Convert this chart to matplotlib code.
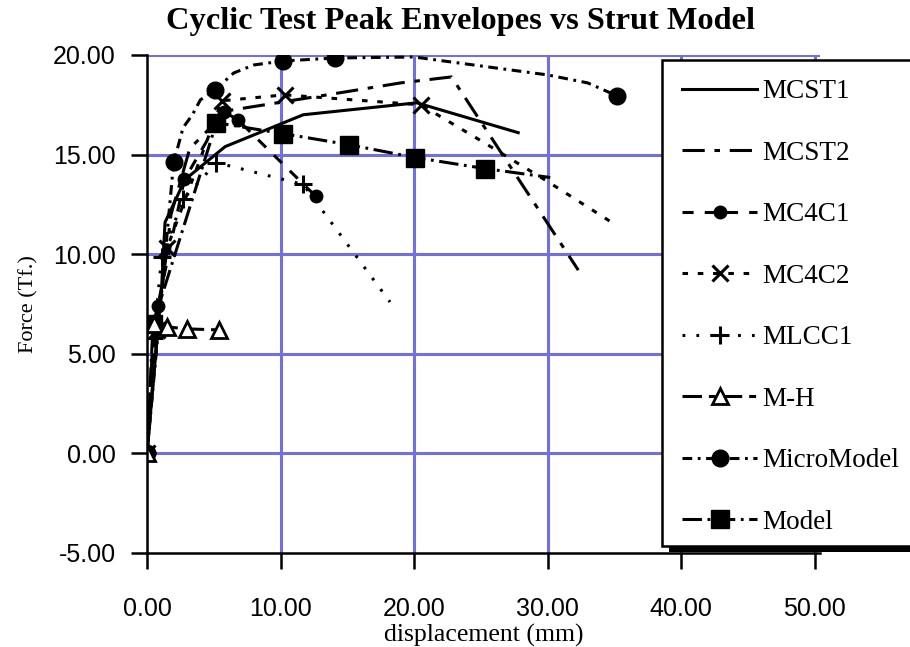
import matplotlib
matplotlib.use("Agg")
import matplotlib.pyplot as plt
from matplotlib.patches import Rectangle
from matplotlib.ticker import FormatStrFormatter

# data (displacement mm, force Tf)
mcst1_x = [0, 1.1, 1.35, 2.85, 5.85, 11.7, 20.2, 27.8]
mcst1_y = [0, 8.4, 11.6, 13.75, 15.4, 17.0, 17.6, 16.1]

mcst2_x = [0, 0.9, 1.8, 3.2, 6.0, 13.5, 19.0, 22.8, 32.3]
mcst2_y = [0, 7.0, 12.0, 15.3, 17.2, 18.0, 18.6, 18.9, 9.2]

mc4c1_x = [0, 0.8, 2.8, 5.75, 6.8, 12.65]
mc4c1_y = [0, 7.4, 13.75, 17.15, 16.75, 12.9]

mc4c2_x = [0, 0.75, 1.5, 5.6, 10.3, 20.5, 25.0, 30.0, 34.8]
mc4c2_y = [0, 6.2, 10.3, 17.7, 18.0, 17.5, 15.7, 13.65, 11.6]

mlcc1_x = [0, 0.5, 1.1, 2.7, 5.2, 11.7, 18.2]
mlcc1_y = [0, 5.8, 9.85, 12.75, 14.6, 13.5, 7.6]

mh_x = [0, 0.5, 1.5, 3.0, 5.4]
mh_y = [0, 6.5, 6.35, 6.25, 6.2]

micro_x = [0, 2.0, 2.3, 2.7, 3.4, 4.0, 5.1, 6.5, 8.0, 10.2, 14.1, 20.0, 25.0, 30.0, 33.0, 35.2]
micro_y = [0, 14.65, 15.35, 16.35, 17.0, 17.75, 18.25, 19.1, 19.5, 19.7, 19.85, 19.9, 19.45, 19.0, 18.6, 17.95]

model_x = [0, 0.45, 5.2, 10.2, 15.1, 20.1, 25.3, 30.2]
model_y = [0, 6.5, 16.6, 16.05, 15.5, 14.85, 14.3, 13.85]

x_ticks = [0, 10, 20, 30, 40, 50]
y_ticks = [-5, 0, 5, 10, 15, 20]

plt.rcParams['lines.scale_dashes'] = False
serif = 'Liberation Serif'
sans = 'Liberation Sans'

W, H = 910, 647
fig = plt.figure(figsize=(W / 100, H / 100), dpi=100)
ax = fig.add_axes([147 / W, 1 - 553 / H, 673 / W, 498 / H])

grid_col = '#7070e2'
for v in y_ticks[1:]:
    ax.axhline(v, color=grid_col, lw=2.2, zorder=1)
for v in x_ticks[1:]:
    ax.axvline(v, color=grid_col, lw=2.2, zorder=1)

lw = 2.2
k = dict(color='black', lw=lw, zorder=3)
ax.plot(mcst1_x, mcst1_y, ls='-', label='MCST1', **k)
ax.plot(mcst2_x, mcst2_y, dashes=(16, 7, 4, 7), label='MCST2', **k)
ax.plot(mc4c1_x, mc4c1_y, dashes=(8, 8), marker='o', ms=9,
        label='MC4C1', **k)
ax.plot(mc4c2_x, mc4c2_y, dashes=(4, 7), marker='x', ms=12, mew=2.2,
        markevery=[0, 1, 2, 3, 4, 5], label='MC4C2', **k)
ax.plot(mlcc1_x, mlcc1_y, dashes=(2, 8), marker='+', ms=13, mew=2.2,
        markevery=[0, 1, 2, 3, 4, 5], label='MLCC1', **k)
ax.plot(micro_x, micro_y, dashes=(7, 4, 2, 4), marker='o', ms=12,
        markevery=[0, 1, 6, 9, 10, 15], label='MicroModel', **k)
ax.plot(model_x, model_y, dashes=(14, 4, 2, 4), marker='s', ms=13,
        markevery=[1, 2, 3, 4, 5, 6], label='Model', **k)
ax.plot(mh_x, mh_y, dashes=(14, 5, 5, 5), marker='^', ms=11, mew=2,
        mfc='white', mec='black', color='black', lw=lw, zorder=4,
        label='M-H')

ax.set_xlim(0, 50.4)
ax.set_ylim(-5, 20)
ax.set_xticks(x_ticks)
ax.set_yticks(y_ticks)
ax.xaxis.set_major_formatter(FormatStrFormatter('%.2f'))
ax.yaxis.set_major_formatter(FormatStrFormatter('%.2f'))
for s in ['top', 'right']:
    ax.spines[s].set_visible(False)
for s in ['left', 'bottom']:
    ax.spines[s].set_linewidth(1.8)
    ax.spines[s].set_zorder(4)
ax.tick_params(axis='both', direction='out', length=11.5, width=1.8,
               labelsize=18)
ax.tick_params(axis='x', pad=20)
ax.tick_params(axis='y', pad=11)
for t in ax.get_xticklabels() + ax.get_yticklabels():
    t.set_fontfamily(sans)

ax.set_xlabel('displacement (mm)', family=serif, fontsize=18.5, labelpad=2)
ax.set_ylabel('Force (Tf.)', family=serif, fontsize=16)
ax.yaxis.set_label_coords((38 - 147) / 673, 0.5)

fig.text(460 / W, 1 - 21 / H, 'Cyclic Test Peak Envelopes vs Strut Model',
         family=serif, weight='bold', fontsize=23.3, ha='center', va='center')

# legend box with heavy drop shadow, running off the right edge
fig.add_artist(Rectangle((669 / W, 1 - 552 / H), 300 / W, (552 - 66) / H,
                         transform=fig.transFigure, fc='black', ec='none',
                         zorder=6))
fig.add_artist(Rectangle((662 / W, 1 - 546 / H), 300 / W, (546 - 60) / H,
                         transform=fig.transFigure, fc='white', ec='black',
                         lw=1.8, zorder=7))
handles, labels = ax.get_legend_handles_labels()
order = ['MCST1', 'MCST2', 'MC4C1', 'MC4C2', 'MLCC1', 'M-H', 'MicroModel', 'Model']
hmap = dict(zip(labels, handles))
leg = fig.legend([hmap[n] for n in order], order, loc='upper left',
                 bbox_to_anchor=(682 / W, 1 - 79 / H),
                 frameon=False, prop={'family': serif, 'size': 19.5},
                 handlelength=2.77, handletextpad=0.2, labelspacing=1.35,
                 borderpad=0, borderaxespad=0, numpoints=1)
leg.set_zorder(8)

fig.savefig('out.png', dpi=100)
